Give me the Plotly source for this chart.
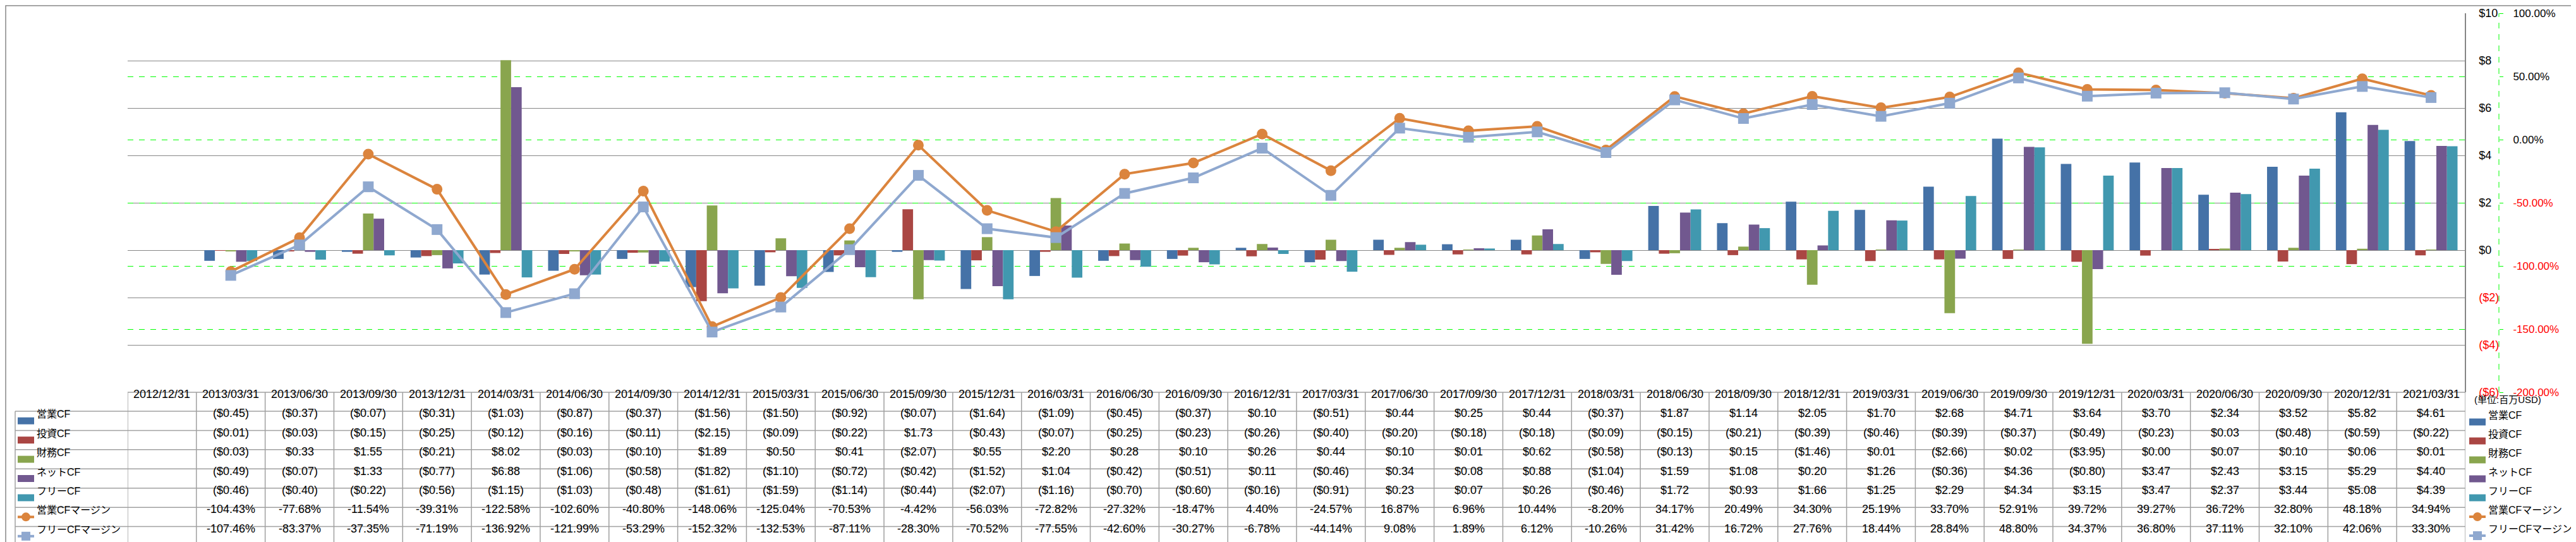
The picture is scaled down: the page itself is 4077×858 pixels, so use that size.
import plotly.graph_objects as go

# ---- data (百万USD / %) ----
dates = ['2012/12/31', '2013/03/31', '2013/06/30', '2013/09/30', '2013/12/31',
         '2014/03/31', '2014/06/30', '2014/09/30', '2014/12/31', '2015/03/31',
         '2015/06/30', '2015/09/30', '2015/12/31', '2016/03/31', '2016/06/30',
         '2016/09/30', '2016/12/31', '2017/03/31', '2017/06/30', '2017/09/30',
         '2017/12/31', '2018/03/31', '2018/06/30', '2018/09/30', '2018/12/31',
         '2019/03/31', '2019/06/30', '2019/09/30', '2019/12/31', '2020/03/31',
         '2020/06/30', '2020/09/30', '2020/12/31', '2021/03/31']

op_cf = [None, -0.45, -0.37, -0.07, -0.31, -1.03, -0.87, -0.37, -1.56, -1.50,
         -0.92, -0.07, -1.64, -1.09, -0.45, -0.37, 0.10, -0.51, 0.44, 0.25,
         0.44, -0.37, 1.87, 1.14, 2.05, 1.70, 2.68, 4.71, 3.64, 3.70,
         2.34, 3.52, 5.82, 4.61]
inv_cf = [None, -0.01, -0.03, -0.15, -0.25, -0.12, -0.16, -0.11, -2.15, -0.09,
          -0.22, 1.73, -0.43, -0.07, -0.25, -0.23, -0.26, -0.40, -0.20, -0.18,
          -0.18, -0.09, -0.15, -0.21, -0.39, -0.46, -0.39, -0.37, -0.49, -0.23,
          0.03, -0.48, -0.59, -0.22]
fin_cf = [None, -0.03, 0.33, 1.55, -0.21, 8.02, -0.03, -0.10, 1.89, 0.50,
          0.41, -2.07, 0.55, 2.20, 0.28, 0.10, 0.26, 0.44, 0.10, 0.01,
          0.62, -0.58, -0.13, 0.15, -1.46, 0.01, -2.66, 0.02, -3.95, 0.00,
          0.07, 0.10, 0.06, 0.01]
net_cf = [None, -0.49, -0.07, 1.33, -0.77, 6.88, -1.06, -0.58, -1.82, -1.10,
          -0.72, -0.42, -1.52, 1.04, -0.42, -0.51, 0.11, -0.46, 0.34, 0.08,
          0.88, -1.04, 1.59, 1.08, 0.20, 1.26, -0.36, 4.36, -0.80, 3.47,
          2.43, 3.15, 5.29, 4.40]
free_cf = [None, -0.46, -0.40, -0.22, -0.56, -1.15, -1.03, -0.48, -1.61, -1.59,
           -1.14, -0.44, -2.07, -1.16, -0.70, -0.60, -0.16, -0.91, 0.23, 0.07,
           0.26, -0.46, 1.72, 0.93, 1.66, 1.25, 2.29, 4.34, 3.15, 3.47,
           2.37, 3.44, 5.08, 4.39]
op_margin = [None, -104.43, -77.68, -11.54, -39.31, -122.58, -102.60, -40.80, -148.06, -125.04,
             -70.53, -4.42, -56.03, -72.82, -27.32, -18.47, 4.40, -24.57, 16.87, 6.96,
             10.44, -8.20, 34.17, 20.49, 34.30, 25.19, 33.70, 52.91, 39.72, 39.27,
             36.72, 32.80, 48.18, 34.94]
free_margin = [None, -107.46, -83.37, -37.35, -71.19, -136.92, -121.99, -53.29, -152.32, -132.53,
               -87.11, -28.30, -70.52, -77.55, -42.60, -30.27, -6.78, -44.14, 9.08, 1.89,
               6.12, -10.26, 31.42, 16.72, 27.76, 18.44, 28.84, 48.80, 34.37, 36.80,
               37.11, 32.10, 42.06, 33.30]

usd_ticks = [-6, -4, -2, 0, 2, 4, 6, 8, 10]
pct_ticks = [-200, -150, -100, -50, 0, 50, 100]

bar_names = ['営業CF', '投資CF', '財務CF', 'ネットCF', 'フリーCF']
bar_values = [op_cf, inv_cf, fin_cf, net_cf, free_cf]
line_names = ['営業CFマージン', 'フリーCFマージン']
line_values = [op_margin, free_margin]

bar_colors = ['#4572A7', '#AA4643', '#89A54E', '#71588F', '#4198AF']
line_colors = ['#DB843D', '#8FA8CF']
line_symbols = ['circle', 'square']

# ---- layout in pixels ----
W, H = 4077, 858
L, R, T, B = 194, 130, 13, 245
PW = W - L - R
PH = H - T - B
PLOT_RIGHT = 3894
GRID = '#868686'
FONT = 'Liberation Sans, Noto Sans CJK JP'


def px(x):
    return (x - L) / PW


def py(y):
    return (T + PH - y) / PH


def fmt_usd(v):
    if v is None:
        return ''
    s = '$%.2f' % abs(v)
    return '(%s)' % s if v < 0 else s


def fmt_pct(v):
    return '' if v is None else '%.2f%%' % v


def red(s, neg):
    return '<span style="color:#FF0000">%s</span>' % s if neg else s


fig = go.Figure()

for name, vals, col in zip(bar_names, bar_values, bar_colors):
    fig.add_trace(go.Bar(x=dates, y=vals, name=name, marker_color=col,
                         marker_line_width=0, yaxis='y'))

for name, vals, col, sym in zip(line_names, line_values, line_colors, line_symbols):
    fig.add_trace(go.Scatter(x=dates, y=vals, name=name, mode='lines+markers',
                             line=dict(color=col, width=4),
                             marker=dict(symbol=sym, size=17, color=col),
                             yaxis='y2'))

shapes = []
annotations = []

# outer border
shapes.append(dict(type='rect', xref='paper', yref='paper', x0=px(1), x1=px(4076),
                   y0=py(1), y1=py(857), line=dict(color=GRID, width=1.5)))
# percent axis line (dashed green)
shapes.append(dict(type='line', xref='paper', yref='paper', x0=1, x1=1, y0=0, y1=1,
                   line=dict(color='#00FF00', width=1, dash='dash')))

# ---- data table ----
n = len(dates)
row_top = 643
row_h = (856 - 643) / 7
row_lines = [row_top + k * row_h for k in range(8)]
shapes.append(dict(type='line', xref='x', yref='paper', x0=-0.5, x1=n - 0.5,
                   y0=py(613), y1=py(613), line=dict(color='#A0A0A0', width=1.5)))
for yl in row_lines:
    shapes.append(dict(type='line', xref='paper', yref='paper', x0=px(16), x1=px(PLOT_RIGHT),
                       y0=py(yl), y1=py(yl), line=dict(color='#A0A0A0', width=1.5)))
for i in range(n + 1):
    shapes.append(dict(type='line', xref='x', yref='paper', x0=i - 0.5, x1=i - 0.5,
                       y0=py(613), y1=py(856), line=dict(color='#A0A0A0', width=1.5)))
shapes.append(dict(type='line', xref='paper', yref='paper', x0=px(16), x1=px(16),
                   y0=py(row_top), y1=py(856), line=dict(color='#A0A0A0', width=1.5)))

for i, d in enumerate(dates):
    annotations.append(dict(x=i, xref='x', y=py(628), yref='paper', text=d,
                            showarrow=False, font=dict(size=18, color='black')))

row_texts = [[fmt_usd(v) for v in s] for s in bar_values] + \
            [[fmt_pct(v) for v in s] for s in line_values]
for r, texts in enumerate(row_texts):
    yc = row_top + (r + 0.5) * row_h
    for i, t in enumerate(texts):
        if t:
            annotations.append(dict(x=i, xref='x', y=py(yc), yref='paper', text=t,
                                    showarrow=False, font=dict(size=18, color='black')))

# legend keys (table left column and right legend)
all_names = bar_names + line_names
all_colors = bar_colors + line_colors
table_centers = [row_top + (r + 0.5) * row_h for r in range(7)]
legend_centers = [660 + 30 * r for r in range(7)]


def add_key(x0, yc, r):
    col = all_colors[r]
    if r < 5:
        shapes.append(dict(type='rect', xref='paper', yref='paper', x0=px(x0), x1=px(x0 + 26),
                           y0=py(yc - 5.5), y1=py(yc + 5.5), fillcolor=col, line_width=0))
    else:
        shapes.append(dict(type='line', xref='paper', yref='paper', x0=px(x0), x1=px(x0 + 26),
                           y0=py(yc), y1=py(yc), line=dict(color=col, width=4)))
        shapes.append(dict(type='circle' if r == 5 else 'rect', xref='paper', yref='paper',
                           x0=px(x0 + 6), x1=px(x0 + 20), y0=py(yc - 7), y1=py(yc + 7),
                           fillcolor=col, line_width=0))


for r in range(7):
    add_key(20, table_centers[r], r)
    annotations.append(dict(x=px(48), xref='paper', y=py(table_centers[r]), yref='paper',
                            text=all_names[r], xanchor='left', showarrow=False,
                            font=dict(size=16, color='black')))
    add_key(3900, legend_centers[r], r)
    annotations.append(dict(x=px(3928), xref='paper', y=py(legend_centers[r]), yref='paper',
                            text=all_names[r], xanchor='left', showarrow=False,
                            font=dict(size=16, color='black')))

annotations.append(dict(x=px(3906), xref='paper', y=py(635), yref='paper',
                        text='(単位:百万USD)', xanchor='left', showarrow=False,
                        font=dict(size=15, color='black')))

fig.update_layout(
    width=W, height=H,
    margin=dict(l=L, r=R, t=T, b=B, pad=0, autoexpand=False),
    plot_bgcolor='white', paper_bgcolor='white',
    font=dict(family=FONT, size=18, color='black'),
    showlegend=False,
    barmode='group', bargap=0.23, bargroupgap=0,
    xaxis=dict(type='category', domain=[0, (PLOT_RIGHT - L) / PW], range=[-0.5, n - 0.5],
               showticklabels=False, showgrid=False, zeroline=False, showline=False,
               ticks='', fixedrange=True, automargin=False),
    yaxis=dict(range=[-6, 10], side='right', anchor='free', position=(PLOT_RIGHT - L) / PW,
               tickvals=usd_ticks,
               ticktext=[red(('($%d)' % abs(v)) if v < 0 else '$%d' % v, v < 0) for v in usd_ticks],
               showgrid=True, gridcolor=GRID, gridwidth=1,
               zeroline=True, zerolinecolor=GRID, zerolinewidth=1,
               showline=True, linecolor=GRID, linewidth=1.5, ticks='',
               ticklabelstandoff=17, tickfont=dict(size=18), automargin=False),
    yaxis2=dict(range=[-200, 100], overlaying='y', side='right', anchor='free', position=1,
                tickvals=pct_ticks,
                ticktext=[red('%.2f%%' % v, v < 0) for v in pct_ticks],
                showgrid=True, gridcolor='#00FF00', gridwidth=1, griddash='dash',
                zeroline=False, showline=False, ticks='outside', ticklen=6,
                tickcolor='#00FF00', tickwidth=1, ticklabelstandoff=12,
                tickfont=dict(size=17), automargin=False),
    shapes=shapes,
    annotations=annotations,
)

fig.write_html('out.html')
